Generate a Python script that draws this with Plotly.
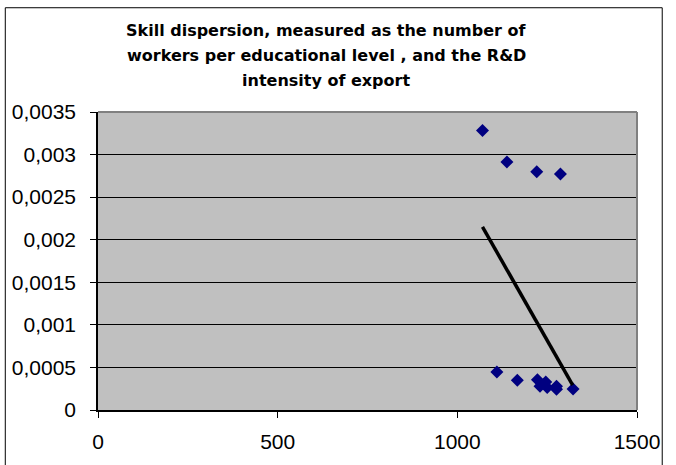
import plotly.graph_objects as go

# Skill dispersion (workers per educational level) vs. R&D intensity of export
skill_dispersion = [1070, 1138, 1221, 1287, 1110, 1167, 1223, 1230, 1246, 1250, 1276, 1276, 1322]
rd_intensity = [0.003283, 0.002914, 0.002798, 0.002771, 0.000445, 0.000349, 0.000356,
                0.000279, 0.000329, 0.000263, 0.000279, 0.000244, 0.000248]

# Linear trend line end points
trend_x = [1070, 1321]
trend_y = [0.002151, 0.000291]

y_ticks = [0, 0.0005, 0.001, 0.0015, 0.002, 0.0025, 0.003, 0.0035]
y_tick_text = ["0", "0,0005", "0,001", "0,0015", "0,002", "0,0025", "0,003", "0,0035"]
x_ticks = [0, 500, 1000, 1500]
x_tick_text = ["0", "500", "1000", "1500"]

title_lines = [
    "Skill dispersion, measured as the number of",
    "workers per educational level , and the R&D",
    "intensity of export",
]

W, H = 676, 465
L, R, T, B = 96, 39.3, 112.3, 51.7
pw, ph = W - L - R, H - T - B

fig = go.Figure()
fig.add_trace(go.Scatter(
    x=skill_dispersion, y=rd_intensity, mode="markers",
    marker=dict(symbol="diamond", size=10, color="#000080", line=dict(width=0)),
    showlegend=False, cliponaxis=False,
))
fig.add_trace(go.Scatter(
    x=trend_x, y=trend_y, mode="lines",
    line=dict(color="black", width=3.5), showlegend=False,
))

font = "Liberation Sans, Arial, sans-serif"
title_font = "DejaVu Sans, Verdana, sans-serif"

def px_x(p):
    return (p - L) / pw

def px_y(p):
    return (H - B - p) / ph

shapes = [
    # plot area frame (top and right in grey)
    dict(type="line", xref="paper", yref="paper", x0=0, x1=1, y0=1, y1=1,
         line=dict(color="#808080", width=2), layer="above"),
    dict(type="line", xref="paper", yref="paper", x0=1, x1=1, y0=0, y1=1,
         line=dict(color="#808080", width=2), layer="above"),
    # outer chart border
    dict(type="rect", xref="paper", yref="paper",
         x0=px_x(3), x1=px_x(662), y0=px_y(475), y1=px_y(7),
         line=dict(color="black", width=1), fillcolor="rgba(0,0,0,0)", layer="below"),
]

annotations = []
for i, line in enumerate(title_lines):
    annotations.append(dict(
        text=line, xref="paper", yref="paper", x=px_x(325), y=px_y(42 + i * 25),
        xanchor="center", yanchor="bottom", showarrow=False,
        font=dict(family=title_font, size=16, color="black", weight="bold"),
    ))

fig.update_layout(
    width=W, height=H,
    margin=dict(l=L, r=R, t=T, b=B, pad=0),
    paper_bgcolor="white", plot_bgcolor="#C0C0C0",
    shapes=shapes, annotations=annotations,
    font=dict(family=font, size=21, color="black"),
)
fig.update_xaxes(
    range=[0, 1500], tickvals=x_ticks, ticktext=x_tick_text,
    showgrid=False, zeroline=False, showline=True, linecolor="black", linewidth=1.5,
    ticks="outside", ticklen=6, tickcolor="black", tickwidth=1,
    tickfont=dict(size=21), ticklabelstandoff=6,
)
fig.update_yaxes(
    range=[0, 0.0035], tickvals=y_ticks, ticktext=y_tick_text,
    showgrid=True, gridcolor="black", gridwidth=1, zeroline=False,
    showline=True, linecolor="black", linewidth=1.5,
    ticks="outside", ticklen=6, tickcolor="black", tickwidth=1,
    tickfont=dict(size=21), ticklabelstandoff=10,
)

fig.write_html("out.html")
